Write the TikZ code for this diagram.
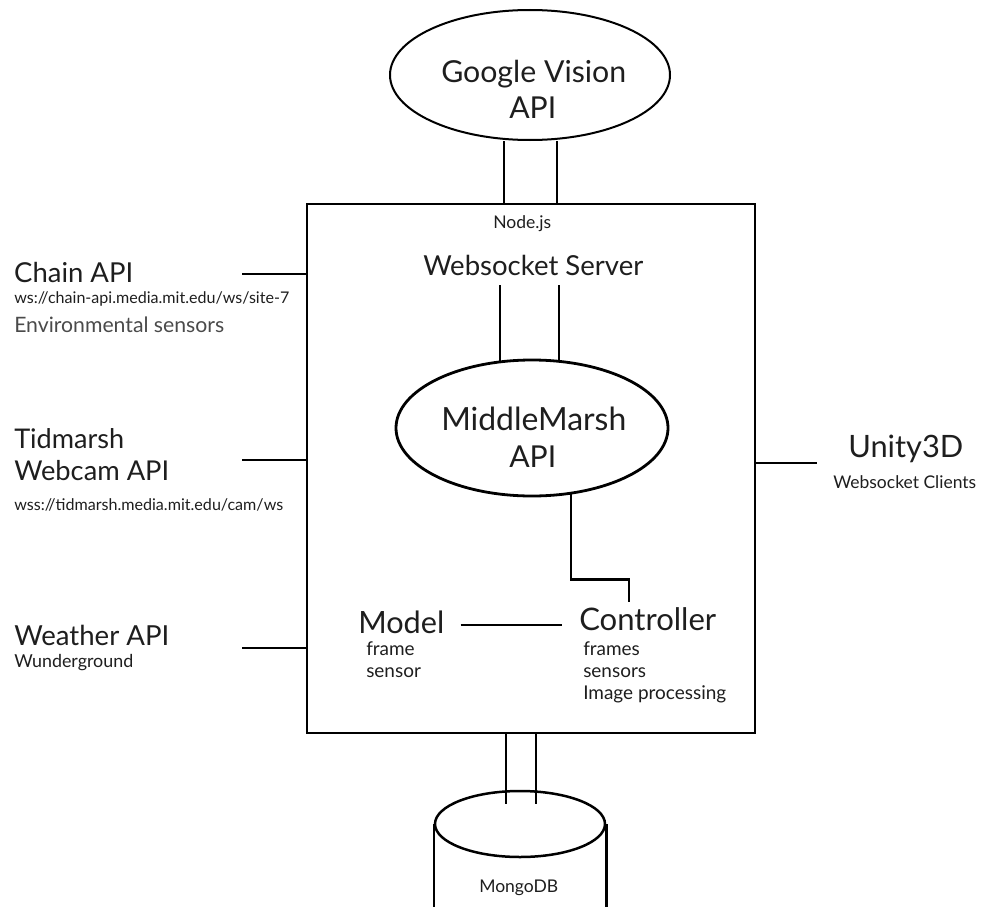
\documentclass[tikz,border=0pt]{standalone}
\usepackage{fontspec}
\usepackage{graphicx}
\setmainfont{Lato}
\usetikzlibrary{shapes.geometric,calc}
\definecolor{ink}{HTML}{1E1E1E}
\definecolor{soft}{HTML}{4A4A4A}
\newcommand\fitw[2]{\resizebox{#1}{!}{#2}}
\newlength\measlen
\begin{document}
\settowidth\measlen{\fontsize{10}{12}\selectfont Image processing}%
\pgfmathsetmacro\subsize{10*143/\measlen}%
\begin{tikzpicture}[x=1pt,y=-1pt,line width=2.5pt,
  txt/.style={inner sep=0pt,text=ink,font=\fontsize{20}{24}\selectfont},
  sub/.style={inner sep=0pt,text=ink,font=\fontsize{\subsize}{22}\selectfont},
  oval/.style={ellipse,draw,inner sep=0pt}]
\useasboundingbox (0,0) rectangle (982,907);
\coordinate (bot) at (0,907);

% Google Vision API
\node[oval,line width=2pt,minimum width=280pt,minimum height=130pt] (gv) at (530,75) {};
\node[txt,anchor=base west] (gvt1) at (440,83) {\fitw{185pt}{Google Vision}};
\node[txt,anchor=base west] (gvt2) at (508,118) {\fitw{47pt}{API}};

% Node.js box
\node[draw,inner sep=0pt,minimum width=448pt,minimum height=529pt] (box) at (531,468.5) {};
\node[txt,anchor=base west] (nodejs) at (492,228) {\fitw{58pt}{Node.js}};

\draw ([xshift=-26pt]gv.south) -- ([xshift=-26pt]gv.south |- box.north);
\draw ([xshift=27pt]gv.south) -- ([xshift=27pt]gv.south |- box.north);

% Websocket server + MiddleMarsh
\node[txt,anchor=base west] (ws) at (422,275) {\fitw{220pt}{Websocket Server}};
\node[oval,line width=2.8pt,minimum width=272pt,minimum height=136pt] (mm) at (532,428) {};
\node[txt,anchor=base west] (mmt1) at (440,430) {\fitw{185pt}{MiddleMarsh}};
\node[txt,anchor=base west] (mmt2) at (508,467) {\fitw{47pt}{API}};
\coordinate (wsl) at (500,285);
\coordinate (wsr) at (559,285);
\draw (wsl) -- ([yshift=-2pt]wsl |- mm.north);
\draw (wsr) -- ([yshift=-2pt]wsr |- mm.north);

% Model / Controller
\node[txt,anchor=base west] (model) at (357,633) {\fitw{86pt}{Model}};
\node[txt,anchor=base west] (ctrl) at (578,630) {\fitw{137pt}{Controller}};
\node[sub,anchor=base west] (m1) at (365,655) {frame};
\node[sub,anchor=base west] (m2) at (365,677) {sensor};
\node[sub,anchor=base west] (c1) at (582,655) {frames};
\node[sub,anchor=base west] (c2) at (582,677) {sensors};
\node[sub,anchor=base west] (c3) at (582,699) {Image processing};
\draw ([xshift=15pt,yshift=8pt]model.base east) -- ([xshift=-16pt,yshift=8pt]model.base east -| ctrl.base west);
\coordinate (ctop) at (629,602);
\draw ([xshift=39pt,yshift=3pt]mm.south) -- ++(0,85) -| (ctop);

% Left sources
\node[txt,anchor=base west] (chain) at (13,282) {\fitw{119pt}{Chain API}};
\node[txt,anchor=base west] (chainurl) at (13,303) {\fitw{275pt}{ws://chain-api.media.mit.edu/ws/site-7}};
\node[txt,anchor=base west,text=soft] (env) at (13,332) {\fitw{210pt}{Environmental sensors}};
\node[txt,anchor=base west] (tid1) at (13,448) {\fitw{110pt}{Tidmarsh}};
\node[txt,anchor=base west] (tid2) at (13,480) {\fitw{155pt}{Webcam API}};
\node[txt,anchor=base west] (tidurl) at (13,510) {\fitw{269pt}{wss://tidmarsh.media.mit.edu/cam/ws}};
\node[txt,anchor=base west] (weather) at (13,645) {\fitw{155pt}{Weather API}};
\node[txt,anchor=base west] (wund) at (13,667) {\fitw{119pt}{Wunderground}};
\coordinate (chainl) at (242,274);
\coordinate (tidl) at (242,460);
\coordinate (weatherl) at (242,648);
\draw (chainl) -- (chainl -| box.west);
\draw (tidl) -- (tidl -| box.west);
\draw (weatherl) -- (weatherl -| box.west);

% Unity3D
\node[txt,anchor=base west] (unity) at (847,457) {\fitw{115pt}{Unity3D}};
\node[txt,anchor=base west] (unityc) at (832,488) {\fitw{143pt}{Websocket Clients}};
\coordinate (unityl) at (817,463);
\draw (unityl -| box.east) -- (unityl);

% MongoDB
\node[oval,minimum width=170pt,minimum height=66pt] (db) at (520,824) {};
\coordinate (dbl) at (db.west |- bot);
\coordinate (dbr) at (db.east |- bot);
\draw (db.west) -- (dbl);
\draw (db.east) -- (dbr);
\node[txt,anchor=base west] (dbt) at (478,892) {\fitw{79pt}{MongoDB}};
\draw ([xshift=-25pt]box.south) -- ++(0,70);
\draw ([xshift=5pt]box.south) -- ++(0,70);
\end{tikzpicture}
\end{document}
